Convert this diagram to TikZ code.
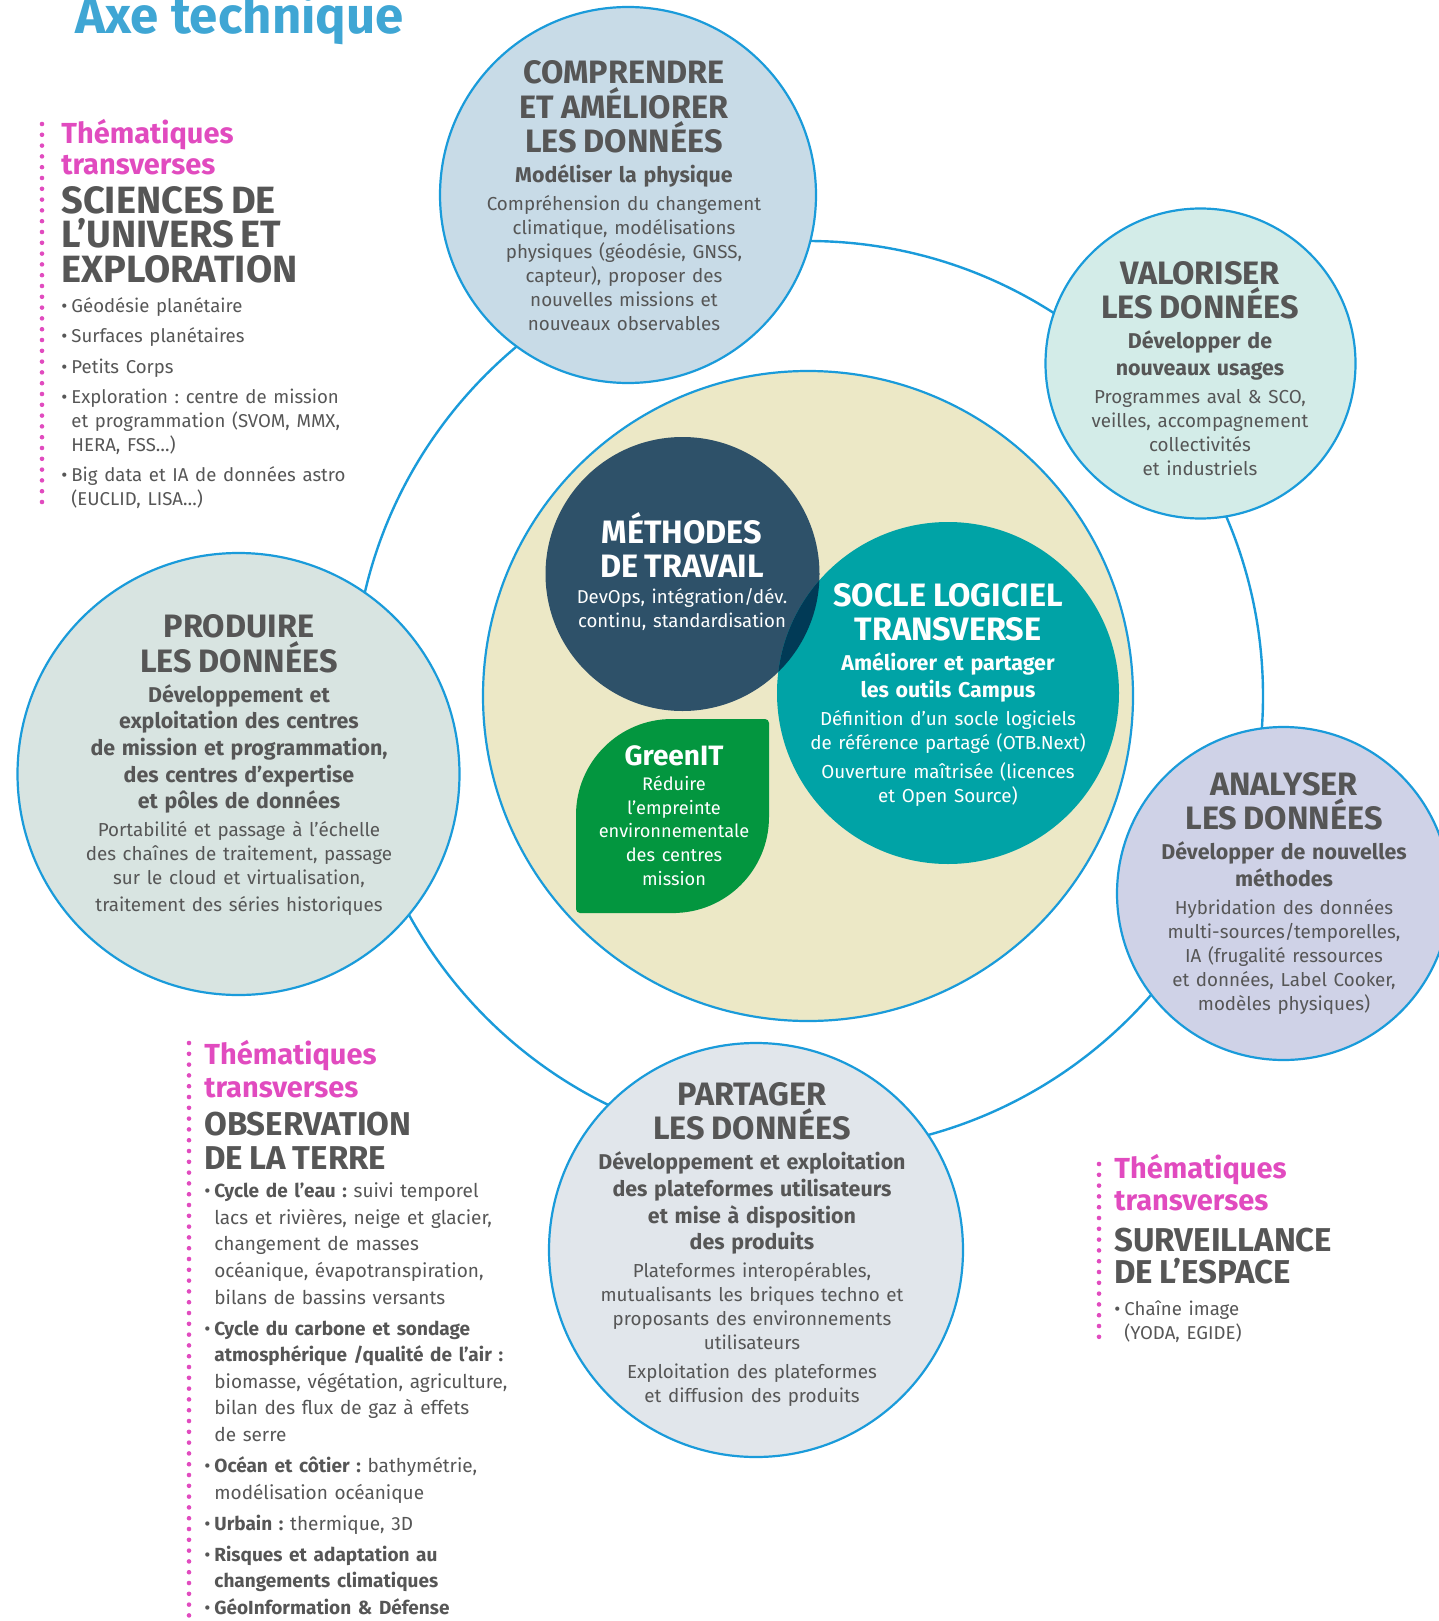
\documentclass[tikz,border=0pt]{standalone}
\usepackage{fontspec}
\setmainfont{Fira Sans}
\frenchspacing

\definecolor{ringblue}{HTML}{1A9BDA}
\definecolor{titleblue}{HTML}{3FA6D4}
\definecolor{txtgray}{HTML}{565656}
\definecolor{pinkth}{HTML}{E14BBF}
\definecolor{fillcomp}{HTML}{C8DBE7}
\definecolor{fillvalo}{HTML}{D3ECE8}
\definecolor{fillprod}{HTML}{D8E4E1}
\definecolor{fillanal}{HTML}{CFD2E7}
\definecolor{fillpart}{HTML}{E1E6EB}
\definecolor{fillnoyau}{HTML}{ECE8C6}
\definecolor{fillmeth}{HTML}{2E5169}
\definecolor{fillsocle}{HTML}{00A3A6}
\definecolor{fillboth}{HTML}{013A56}
\definecolor{fillgreen}{HTML}{03963F}

% type sizes (1 unit = 1 image pixel = 0.5pt)
\newcommand\headfnt{\fontsize{16.2}{17.25}\selectfont\bfseries}
\newcommand\subfnt{\fontsize{10.7}{13.3}\selectfont\bfseries}
\newcommand\bodyfnt{\fontsize{9.4}{12}\selectfont\mdseries}
\newcommand\pinkfnt{\color{pinkth}\fontsize{14.5}{15.5}\selectfont\bfseries}
\newcommand\bul{\makebox[5pt][l]{\textbullet}}
\newcommand\hangin{\hspace*{5pt}}

\begin{document}
\begin{tikzpicture}[x=0.5pt,y=-0.5pt,
  ring/.style={draw=ringblue,line width=1.2pt},
  bubble/.style={circle,draw=ringblue,line width=1.1pt,inner sep=0pt,fill=#1},
  disc/.style={circle,inner sep=0pt,fill=#1},
  ctext/.style={anchor=north,inner sep=0pt,text width=200pt,align=center,text=txtgray},
  ltext/.style={anchor=north west,inner sep=0pt,text width=220pt,align=left,text=txtgray},
  pinkdots/.style={draw=pinkth,line width=2.3pt,line cap=round,dash pattern=on 0pt off 5.4pt}]
  \useasboundingbox (0,0) rectangle (1439,1621);

  % orbit behind the bubbles
  \coordinate (hub) at (808,696);
  \draw[ring] (hub) circle[radius=455];

  \node[bubble=fillcomp,minimum size=188pt] (comprendre) at (628,195) {};
  \node[bubble=fillvalo,minimum size=155pt] (valoriser) at (1200.5,363.5) {};
  \node[bubble=fillprod,minimum size=221pt] (produire) at (238.5,774) {};
  \node[bubble=fillanal,minimum size=166.5pt] (analyser) at (1283.5,893.5) {};
  \node[bubble=fillpart,minimum size=207pt] (partager) at (756,1250) {};

  % core
  \node[bubble=fillnoyau,minimum size=325pt] (noyau) at (hub) {};
  \node[disc=fillmeth,minimum size=137pt] (methodes) at (682.5,574) {};
  \node[disc=fillsocle,minimum size=171pt] (socle) at (948,693) {};
  \begin{scope}
    \clip (methodes.center) circle[radius=137];
    \fill[fillboth] (socle.center) circle[radius=171];
  \end{scope}
  \fill[fillgreen] (672,913) [rounded corners=2pt] -- (576,913) [rounded corners=48pt] -- (576,719)
    [rounded corners=2pt] -- (769,719) [rounded corners=48pt] -- (769,913) [rounded corners=2pt] -- cycle;

  \node[anchor=base west,inner sep=0pt,font=\fontsize{25.5}{25.5}\selectfont\bfseries,text=titleblue] (titre) at (75,34) {Axe technique};

  \node[ctext] (comprendre-t) at (624,60.3) {\headfnt COMPRENDRE\\ET AMÉLIORER\\LES DONNÉES\\[1.7pt]
    \subfnt Modéliser la physique\\[2.1pt]
    \bodyfnt Compréhension du changement\\climatique, modélisations\\physiques (géodésie, GNSS,\\capteur), proposer des\\nouvelles missions et\\nouveaux observables};

  \node[ctext] (valoriser-t) at (1200,261) {\headfnt VALORISER\\LES DONNÉES\\[1.7pt]
    \subfnt Développer de\\nouveaux usages\\[2.1pt]
    \bodyfnt Programmes aval \& SCO,\\veilles, accompagnement\\collectivités\\et industriels};

  \node[ctext] (produire-t) at (239,614.3) {\headfnt PRODUIRE\\LES DONNÉES\\[1.7pt]
    \subfnt Développement et\\exploitation des centres\\de mission et programmation,\\des centres d’expertise\\et pôles de données\\[2.1pt]
    \bodyfnt Portabilité et passage à l’échelle\\des chaînes de traitement, passage\\sur le cloud et virtualisation,\\[1.3pt]traitement des séries historiques};

  \node[ctext] (analyser-t) at (1284,771.6) {\headfnt ANALYSER\\LES DONNÉES\\[1.7pt]
    \subfnt Développer de nouvelles\\méthodes\\[2.1pt]
    \bodyfnt Hybridation des données\\multi-sources/temporelles,\\IA (frugalité ressources\\et données, Label Cooker,\\modèles physiques)};

  \node[ctext] (partager-t) at (752,1081.9) {\headfnt PARTAGER\\LES DONNÉES\\[1.7pt]
    \subfnt Développement et exploitation\\des plateformes utilisateurs\\et mise à disposition\\des produits\\[2.1pt]
    \bodyfnt Plateformes interopérables,\\mutualisants les briques techno et\\proposants des environnements\\utilisateurs\\[2.3pt]Exploitation des plateformes\\et diffusion des produits};

  \node[ctext,text=white] (methodes-t) at (682,512) {\headfnt MÉTHODES\\DE TRAVAIL\\[1.25pt]
    \fontsize{9.3}{11.8}\selectfont\mdseries DevOps, intégration/dév.\\continu, standardisation};

  \node[ctext,text=white] (socle-t) at (948,583) {\headfnt SOCLE LOGICIEL\\TRANSVERSE\\[1.7pt]
    \subfnt Améliorer et partager\\les outils Campus\\[2.1pt]
    \bodyfnt Définition d’un socle logiciels\\de référence partagé (OTB.Next)\\[2.3pt]Ouverture maîtrisée (licences\\et Open Source)};

  \node[ctext,text=white] (greenit-t) at (674,745) {\fontsize{14}{14}\selectfont\bfseries GreenIT\\[0.8pt]
    \fontsize{9.1}{11.8}\selectfont\mdseries Réduire\\l’empreinte\\environnementale\\des centres\\mission};

  % thematic side notes
  \draw[pinkdots] (42,124) -- (42,509);
  \node[ltext] (univers) at (61,118.5) {\pinkfnt Thématiques\\transverses\\[2.2pt]
    \color{txtgray}\fontsize{19}{17.3}\selectfont SCIENCES DE\\L’UNIVERS ET\\EXPLORATION\\[3pt]
    \fontsize{9.3}{12}\selectfont\mdseries\bul Géodésie planétaire\\[3.2pt]
    \bul Surfaces planétaires\\[3.2pt]
    \bul Petits Corps\\[3.2pt]
    \bul Exploration : centre de mission\\\hangin et programmation (SVOM, MMX,\\\hangin HERA, FSS…)\\[3.2pt]
    \bul Big data et IA de données astro\\\hangin (EUCLID, LISA…)};

  \draw[pinkdots] (189,1043) -- (189,1625);
  \node[ltext] (terre) at (204,1039.5) {\pinkfnt Thématiques\\[1pt]transverses\\[2pt]
    \color{txtgray}\fontsize{16.5}{17}\selectfont OBSERVATION\\DE LA TERRE\\[1pt]
    \fontsize{9.5}{13.3}\selectfont\mdseries
    \bul\textbf{Cycle de l’eau :} suivi temporel\\\hangin lacs et rivières, neige et glacier,\\\hangin changement de masses\\\hangin océanique, évapotranspiration,\\\hangin bilans de bassins versants\\[2.2pt]
    \bul\textbf{Cycle du carbone et sondage}\\\hangin\textbf{atmosphérique /qualité de l’air :}\\\hangin biomasse, végétation, agriculture,\\\hangin bilan des flux de gaz à effets\\\hangin de serre\\[2.2pt]
    \bul\textbf{Océan et côtier :} bathymétrie,\\\hangin modélisation océanique\\[2.2pt]
    \bul\textbf{Urbain :} thermique, 3D\\[2.2pt]
    \bul\textbf{Risques et adaptation au}\\\hangin\textbf{changements climatiques}\\[1.6pt]
    \bul\textbf{GéoInformation \& Défense}};

  \draw[pinkdots] (1099,1164) -- (1099,1343);
  \node[ltext] (espace) at (1114,1153.5) {\pinkfnt Thématiques\\[0.5pt]transverses\\[4.3pt]
    \color{txtgray}\fontsize{16.5}{16.2}\selectfont SURVEILLANCE\\DE L’ESPACE\\[3.5pt]
    \fontsize{9.3}{12.7}\selectfont\mdseries \bul Chaîne image\\\hangin (YODA, EGIDE)};
\end{tikzpicture}
\end{document}
